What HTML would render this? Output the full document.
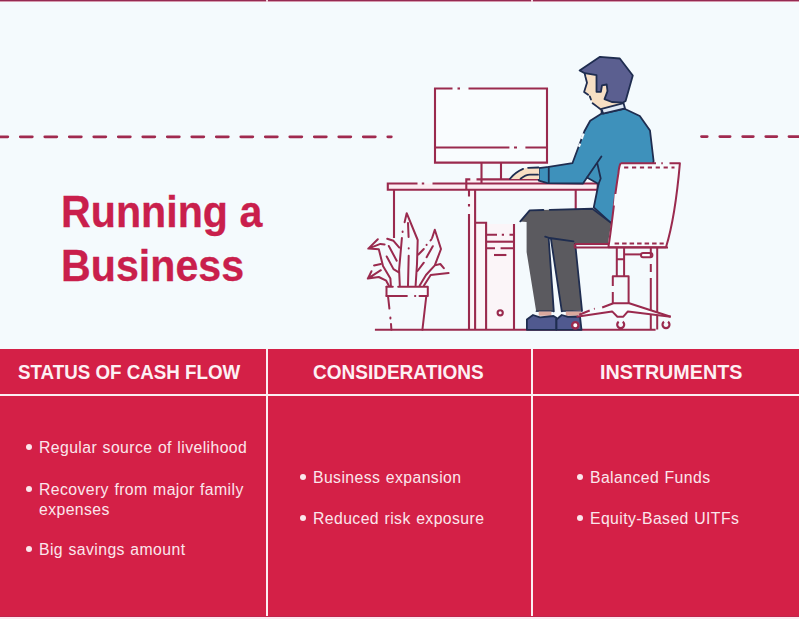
<!DOCTYPE html>
<html><head><meta charset="utf-8">
<style>
html,body{margin:0;padding:0;}
body{width:799px;height:619px;position:relative;overflow:hidden;background:#f4fafd;font-family:"Liberation Sans",sans-serif;}
.abs{position:absolute;white-space:nowrap;}
.topline{position:absolute;left:0;top:0;width:799px;height:2px;background:linear-gradient(#952a52 0,#952a52 50%,#d69aae 50%,#d69aae 100%);}
.title{color:#c91f4c;-webkit-text-stroke:0.3px #c91f4c;font-weight:bold;font-size:44px;line-height:44px;transform-origin:0 0;transform:scaleX(0.936);}
.band{position:absolute;left:0;top:349px;width:799px;height:268px;background:#d42047;}
.vline{position:absolute;top:349px;width:2px;height:268px;background:#fbeef2;}
.hline{position:absolute;left:0;top:394px;width:799px;height:2px;background:#fbeef2;}
.bot{position:absolute;left:0;top:617px;width:799px;height:2px;background:#fde8f0;}
.hd{color:#fdf0f4;font-weight:bold;font-size:20.6px;line-height:20px;transform-origin:0 0;}
.tx{color:#fbe6ec;font-size:15.8px;line-height:16px;letter-spacing:0.4px;word-spacing:0.7px;transform-origin:0 0;}
.dot{position:absolute;width:6px;height:6px;border-radius:50%;background:#fbe6ec;}
svg{position:absolute;left:0;top:0;}
</style></head>
<body>
<div class="topline"></div>
<div class="abs" style="left:266px;top:0;width:2px;height:2px;background:#f0d6df"></div>
<div class="abs" style="left:531px;top:0;width:2px;height:2px;background:#f0d6df"></div>

<svg width="799" height="619" viewBox="0 0 799 619">
  <g stroke="#a02a4f" stroke-width="2.8" stroke-linecap="round" fill="none">
    <line x1="-4.2" y1="136.8" x2="391.3" y2="136.8" stroke-dasharray="12 12.5"/>
    <line x1="701.5" y1="136.6" x2="805" y2="136.6" stroke-dasharray="5.7 12.6 10.3 12.6 10.6 12.5 11 12.2 20"/>
  </g>
  <!-- desk / monitor / tower / chair (red line art) -->
  <g stroke="#9a2a4e" stroke-width="2.1" fill="none" stroke-linecap="butt" stroke-linejoin="miter">
    <rect x="387.8" y="183.5" width="209.9" height="6.2" fill="#fcedf2" stroke="none"/>
    <rect x="466.3" y="179.4" width="74" height="4.1" fill="#fcf0f4" stroke="none"/>
    <path d="M469 189.7 H475.1 V222.8 H486.1 V224 H514 V329.6 H469 Z" fill="#fbf5f8" stroke="none"/>
    <rect x="435" y="88.5" width="112" height="74" fill="#f9fcfe" stroke="none"/>
    <!-- monitor -->
    <path d="M452.5 88.5 H435 V162.6 H547 V88.5 H468.5"/>
    <path d="M457.5 88.5 H460"/>
    <path d="M435 147.5 H509.4 M514 147.5 H517 M525.4 147.5 H547"/>
    <path d="M481.5 162.6 V183.5 M501 162.6 V179.4"/>
    <!-- desk slab -->
    <path d="M417.5 183.5 H387.8 V189.7 H597.7 V183.5 H432.5 M421.8 183.5 H424.2"/>
    <!-- keyboard -->
    <path d="M470.3 179.4 H466.3 V189.7 M476.5 179.4 H540"/>
    <!-- desk legs -->
    <path d="M394 189.7 V238"/>
    <path d="M469 189.7 V196.5 M469 204 V206.5 M469 214 V329.6"/>
    <path d="M475.1 189.7 V329.6"/>
    <path d="M575.7 189.7 V210"/>
    <!-- tower -->
    <path d="M475.1 222.8 H486.1 V329.6 M514 224 V329.6"/>
    <path d="M486.1 234.7 H497 M501.8 234.7 H504 M509.5 234.7 H514"/>
    <path d="M486.1 241.7 H514"/>
    <path d="M486.1 248.2 H495 M500.6 248.2 H514"/>
    <path d="M494 255 H506.4"/>
    <circle cx="500.2" cy="312.8" r="2.6"/>
    <!-- floor -->
    <path d="M374.9 329.8 H655.6"/>
  </g>
  <!-- plant -->
  <g stroke="#9a2a4e" stroke-width="2" fill="none" stroke-linecap="round" stroke-linejoin="round">
    <path d="M386.5 286.8 H392.8 M398.2 286.8 H427.8 V296 H419.5 M415 296 H415.3 M406.9 296 H386.5 Z" fill="#f8fcfe"/>
    <path d="M386.5 286.8 V296"/>
    <path d="M388 296 L389.4 308.6 M390.4 317.5 V318.5 M391 324 L391.4 329.8"/>
    <path d="M426.3 296 L422.4 329.8"/>
    <!-- central leaf -->
    <path d="M404.6 222.2 L406.7 213.2 L417.7 240 L417 264 L415.6 285.5"/>
    <path d="M402.6 231.6 V232 M401.9 238 L399.1 269.6 L399.8 285.5"/>
    <path d="M408 223 L408.6 237 M408.7 248.3 V248.5 M408.7 255.8 L408 285.5"/>
    <!-- right leaf -->
    <path d="M432.1 238 L434.8 229.7 L441 249 L434.8 265.4 L440.3 264 L443.8 268.2 M434.8 265.4 L426 275 L419.7 285.5"/>
    <path d="M431.4 239.3 L430.5 240.5 M426.6 244.8 V245 M423.8 249 L418.4 254.5"/>
    <path d="M432.8 246.2 L426.6 257.2 M423.8 262.7 L417.5 271"/>
    <!-- far right leaf -->
    <path d="M448.6 273 L430.7 275 L424 285.5"/>
    <!-- left upper leaf -->
    <path d="M377.8 239.2 L368.3 248.6 L380.4 243.9 L384.6 244.4 M368.3 248.6 L378.8 249.2 L383 266 L390.4 278.6 L390.9 286"/>
    <path d="M387.2 238.7 L393.5 240.8 L399.3 247.6"/>
    <path d="M388.8 246 L396.7 260.7 M386.7 256.5 L393.5 269.1 L398.8 272.3"/>
    <!-- left lower leaf -->
    <path d="M371.5 271.2 L367.8 278.6 L380.9 270.2 M374 265.4 L380.9 263.9 M367.8 278.6 L378.8 277 L386.2 280.7 L389 286"/>
  </g>
  <!-- person -->
  <g stroke="#1f2d50" stroke-width="1.8" stroke-linejoin="round" stroke-linecap="round">
    <!-- torso + arm -->
    <path fill="#3e91bb" d="M601.3 113.8 L590.2 120.8 L584.4 131.3 L578.1 148 L572.4 163.2 L548.75 166.9 L538.75 168.1 L538.75 180.6 L547.5 183.2 L583 183.5 L587 177.5 L598.5 184 L593.8 207.3 L610.3 222.4 L640 225 L653.6 161 L650 130.5 L639.8 116 L624.5 108.7 Z"/>
    <path fill="none" d="M548.75 166.9 V183 M601.4 156.5 L587 177.5 M597.3 163.4 L600.7 178.5 L598.5 184"/>
    <path fill="none" stroke="#f4fafd" stroke-width="2.2" stroke-linecap="butt" d="M583.6 133.5 L581.6 139 M580.2 143.6 L578.8 146.8"/>
    <!-- hand -->
    <path fill="#f7dfc4" stroke="none" d="M510 178.9 C513 175, 517 171, 523.1 168.75 L528.1 167.8 L539 167.5 L539 178.9 Z"/>
    <path fill="none" d="M510 178.75 C513 175, 517 171.5, 523.1 168.9 M528.1 167.8 L538.5 167.5 M520.6 178.75 C524 176, 527 174.7, 530 174.7 L538 174.7"/>
    <!-- skin: face & neck -->
    <path fill="#f7dfc4" stroke="none" d="M584.7 73.2 L596.5 75.1 L596.5 91.8 L600.9 91.8 L602 85.3 L606.7 84.5 L607.5 91.1 L604.5 99.1 L611.8 102 L622.7 102.7 L623.5 103.5 L602.4 108.5 L601.6 113 L597.1 106.6 L592.6 103.2 L591 99.8 L588.1 94.7 L584.1 92.5 L586.5 84 Z"/>
    <path fill="none" d="M584.7 73.5 L585.5 77 L587 82.8 L584.1 91.9 L588.1 94.7 M589.8 96.4 L591 99.5 M592.6 103.2 L597.1 106.6 L601.6 110 L601.6 113"/>
    <!-- hair -->
    <path fill="#5b5f90" d="M579.6 70.4 L600 56.8 L619.8 58.5 L632.8 75.5 L625.6 101 L622.7 102.7 L611.8 102 L604.5 99.1 L607.5 91.1 L606.7 84.5 L602 85.3 L600.9 91.8 L596.5 91.8 L596.5 75.1 L584.7 73.2 Z"/>
    <!-- collar -->
    <path fill="#dfe8f4" d="M601.6 108.8 L623.5 103.1 L625 108.5 L603 113.6 Z"/>
    <!-- pants -->
    <path fill="#5b5a5f" stroke="none" d="M520.3 221.4 L529.7 210.3 L592.5 208.75 L611.25 223.1 L608 243 L575.2 243.6 L582 310.5 L561.8 311.4 L550.9 238.7 L548.7 238.7 L553.8 311.4 L536.2 311.4 L526.6 252 L526.6 221.9 Z"/>
    <path fill="none" d="M520.3 221.4 L529.7 210.3 L543.4 210 M549.7 209.8 L592.5 208.75 L611.25 223.1 M575.2 243.6 L582 310.5 M550.9 238.7 L561.8 311.4 M545.2 236.6 L549.5 238 L573.5 241.3 M548.7 238.7 L553.8 311.4"/>
    <path fill="none" stroke-width="1.2" d="M536.2 311.2 H553.5 M562 311.2 H582"/>
    <!-- socks -->
    <path fill="#d9a89e" stroke="none" d="M538.7 311.4 H551.4 V315.8 H538.7 Z M565.8 311.4 H581 V315.8 H565.8 Z"/>
    <!-- shoes -->
    <path fill="#50598f" d="M526.9 329.8 V319.5 L533 315 L540 317.3 L553.5 316 L556.3 317.8 V329.8 Z"/>
    <path fill="#50598f" d="M556.5 329.8 V319.5 L561.8 315 L568 316.8 L580 316.5 L581.5 329.8 Z"/>
  </g>
  <!-- chair -->
  <g stroke="#9a2a4e" stroke-width="2" fill="none" stroke-linecap="butt" stroke-linejoin="round">
    <path fill="#f8fcfe" d="M620.7 163.2 L656 163.2 M669.5 163.2 L679.9 163.2 C678 185, 674.5 220, 666 247.2 L608.4 247.2 C612 225, 614 200, 618.4 173.4 Q619 166 620.7 163.2"/>
    <path d="M661.3 163.2 H662.8"/>
    <path stroke="#f8fcfe" stroke-width="2.4" d="M615.9 194 L614.9 205.7"/>
    <path stroke-dasharray="4.2 3.7" d="M624.1 167.5 H674.5"/>
    <path stroke-dasharray="4.5 3" d="M614.6 243.6 H663.7"/>
    <path d="M574.8 244 H608.4 M574.8 244 V247.6 H668"/>
    <path d="M616.8 247.6 V276.2 M624.1 247.6 V276.2 M616.8 259.2 H624.1"/>
    <path d="M612.8 286 V276.2 H628.6 V303.2 M612.8 292 V303.2"/>
    <path d="M624.1 254.4 H641"/>
    <rect x="641" y="253" width="11.4" height="4.3" rx="2" fill="#f8fcfe"/>
    <path d="M650.8 247.6 V257 M650.8 264 V272 M650.8 278 V329.5"/>
    <path d="M657.2 247.6 V329.5"/>
    <path fill="#f8fcfe" stroke="none" d="M576.6 316.7 L579.2 314.7 L602.2 307.5 L613.4 303.2 L629.2 303.2 L670.7 316.7 L627.9 311.4 L623.3 316.7 L617.4 316.7 L612.1 311.4 Z"/>
    <path d="M602.2 307.5 L613.4 303.2 H629.2 L670.7 316.7 M594 308.9 L594.8 308.6 M589.7 310.5 L579.2 314.7"/>
    <path d="M576.6 316.7 L612.1 311.4 L617.4 316.7 H623.3 L627.9 311.4 L670.7 316.7"/>
    <circle cx="575.3" cy="325.3" r="3.2" fill="#fff" stroke-width="2.4"/>
    <path stroke-width="2.2" d="M622.71 321.73 A3.5 3.5 0 1 1 618.69 321.73"/>
    <path stroke-width="2.2" d="M668.01 321.73 A3.5 3.5 0 1 1 663.99 321.73"/>
  </g>
</svg>

<div class="abs title" style="left:61px;top:190px;">Running a</div>
<div class="abs title" style="left:61px;top:244px;">Business</div>

<div class="band"></div>
<div class="vline" style="left:266px"></div>
<div class="vline" style="left:531px"></div>
<div class="hline"></div>
<div class="bot"></div>
<div class="abs" style="left:0;top:616px;width:799px;height:1px;background:#c0234b"></div>

<div class="abs hd" style="left:18px;top:362px;transform:scaleX(0.911)">STATUS OF CASH FLOW</div>
<div class="abs hd" style="left:313px;top:362px;transform:scaleX(0.923)">CONSIDERATIONS</div>
<div class="abs hd" style="left:600px;top:362px;transform:scaleX(0.957)">INSTRUMENTS</div>

<div class="dot" style="left:26.4px;top:444.4px"></div>
<div class="abs tx" style="left:39px;top:440px;">Regular source of livelihood</div>
<div class="dot" style="left:26.4px;top:485.6px"></div>
<div class="abs tx" style="left:39px;top:482px;">Recovery from major family</div>
<div class="abs tx" style="left:39px;top:502px;">expenses</div>
<div class="dot" style="left:26.4px;top:546.4px"></div>
<div class="abs tx" style="left:39px;top:542px;">Big savings amount</div>

<div class="dot" style="left:300.4px;top:474.4px"></div>
<div class="abs tx" style="left:313px;top:470px;">Business expansion</div>
<div class="dot" style="left:300.4px;top:515.4px"></div>
<div class="abs tx" style="left:313px;top:511px;">Reduced risk exposure</div>

<div class="dot" style="left:577.4px;top:474.4px"></div>
<div class="abs tx" style="left:590px;top:470px;">Balanced Funds</div>
<div class="dot" style="left:577.4px;top:515.4px"></div>
<div class="abs tx" style="left:590px;top:511px;">Equity-Based UITFs</div>

</body></html>
